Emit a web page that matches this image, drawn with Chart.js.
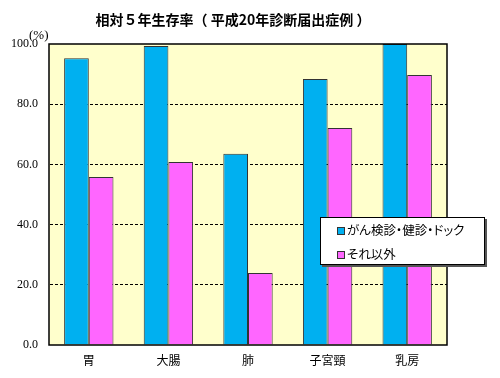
<!DOCTYPE html>
<html><head><meta charset="utf-8">
<script src="https://cdn.jsdelivr.net/npm/chart.js@4"></script>
<style>
html,body{margin:0;padding:0;background:#fff;}
#wrap{position:relative;width:500px;height:378px;}
#title{position:absolute;left:0;width:466px;top:9px;text-align:center;font:bold 14px "Noto Sans CJK JP";color:#000;white-space:pre;}
#unit{position:absolute;left:29px;top:27px;font:13px "Liberation Serif";color:#000;}
#legend{position:absolute;left:320px;top:217px;width:163px;height:46px;background:#fff;border:1px solid #000;box-shadow:2px 2px 0 #555;font:12.5px "Noto Sans CJK JP";font-feature-settings:"palt";color:#000;}
.li{position:absolute;left:16px;height:16px;line-height:16px;white-space:nowrap;}
.sw{display:inline-block;width:6px;height:6px;border:1px solid #333;margin-right:2px;vertical-align:middle;position:relative;top:-1px;}
</style></head>
<body><div id="wrap"><canvas id="c" width="500" height="378"></canvas>
<div id="title">相対５年生存率（ 平成20年診断届出症例 ）</div>
<div id="unit">(%)</div>
<div id="legend"></div></div>
<script>
const categories = ["胃","大腸","肺","子宮頸","乳房"];
const seriesNames = ["がん検診・健診・ドック","それ以外"];
const screened = [95.3, 99.3, 63.5, 88.4, 100.0];
const others = [55.8, 60.8, 23.9, 72.1, 89.7];
const yTicks = [0,20,40,60,80,100];
const colors = ["#00B0F0","#FF66FF"];

const lg = document.getElementById('legend');
seriesNames.forEach((n,i)=>{
  const d=document.createElement('div');d.className='li';d.style.top=(4+i*24)+'px';
  d.innerHTML='<span class="sw" style="background:'+colors[i]+'"></span>'+n;
  lg.appendChild(d);
});

const bgPlugin={id:'bg',
  beforeDraw(ch){const a=ch.chartArea,c=ch.ctx;c.save();c.fillStyle='#FFFFCC';c.fillRect(a.left,a.top,a.right-a.left,a.bottom-a.top);c.restore();},
  afterDatasetsDraw(ch){const a=ch.chartArea,c=ch.ctx;c.save();c.strokeStyle='#000';c.lineWidth=1.5;c.strokeRect(a.left,a.top,a.right-a.left,a.bottom-a.top);c.restore();}
};

new Chart(document.getElementById('c'),{
  type:'bar',
  data:{labels:categories,datasets:[
    {label:seriesNames[0],data:screened,backgroundColor:colors[0],borderColor:'#333',borderWidth:1,categoryPercentage:0.62,barPercentage:1},
    {label:seriesNames[1],data:others,backgroundColor:colors[1],borderColor:'#333',borderWidth:1,categoryPercentage:0.62,barPercentage:1}
  ]},
  options:{responsive:false,animation:false,
    layout:{padding:{left:0,right:53,top:44,bottom:0}},
    plugins:{legend:{display:false},title:{display:false},tooltip:{enabled:false}},
    scales:{
      x:{grid:{display:false,drawTicks:false},border:{display:false},
        ticks:{color:'#000',font:{family:'Noto Sans CJK JP',size:12},padding:8},
        afterFit(s){s.height=33;}},
      y:{min:0,max:100,afterBuildTicks(s){s.ticks=yTicks.map(v=>({value:v}));},
        grid:{drawTicks:false,color:(ctx)=>(ctx.tick&&(ctx.tick.value===0||ctx.tick.value===100))?'rgba(0,0,0,0)':'#000',lineWidth:1,borderDash:[3,2]},
        border:{display:true,color:'rgba(0,0,0,0)',dash:[3,2]},
        ticks:{color:'#000',font:{family:'Liberation Serif',size:12},padding:11,callback:v=>Number(v).toFixed(1)},
        afterFit(s){s.width=49;}}
    }
  },
  plugins:[bgPlugin]
});
</script></body></html>
